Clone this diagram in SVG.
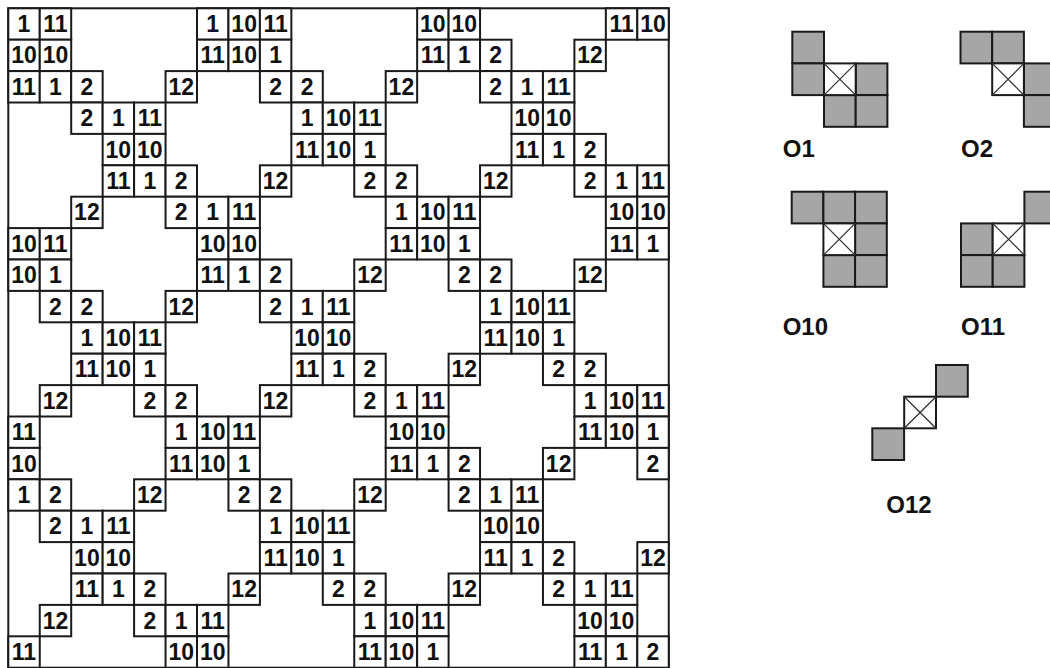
<svg xmlns="http://www.w3.org/2000/svg" width="1050" height="668" viewBox="0 0 1050 668">
<style>
.c rect{fill:#fff;stroke:#1a1a1a;stroke-width:2}
.c text{font-family:"Liberation Sans",Arial,sans-serif;font-weight:bold;font-size:23px;fill:#111;text-anchor:middle}
.g{fill:#a6a6a6;stroke:#1a1a1a;stroke-width:2}
.x{fill:#fff;stroke:#1a1a1a;stroke-width:2}
.xd{stroke:#333;stroke-width:1.3}
.lbl{font-family:"Liberation Sans",Arial,sans-serif;font-weight:bold;font-size:24px;fill:#111}
</style>
<rect x="0" y="0" width="1050" height="668" fill="#fff"/>
<g id="grid">
<rect id="frame" x="8.3" y="8.3" width="660.45" height="659.4" fill="none" stroke="#1a1a1a" stroke-width="2"/>
<g id="r0c0" class="c" transform="translate(8.3,8.3)"><rect width="31.45" height="31.4"/><text x="15.72" y="23.8">1</text></g>
<g id="r0c1" class="c" transform="translate(39.75,8.3)"><rect width="31.45" height="31.4"/><text x="15.72" y="23.8">11</text></g>
<g id="r0c6" class="c" transform="translate(197,8.3)"><rect width="31.45" height="31.4"/><text x="15.72" y="23.8">1</text></g>
<g id="r0c7" class="c" transform="translate(228.45,8.3)"><rect width="31.45" height="31.4"/><text x="15.72" y="23.8">10</text></g>
<g id="r0c8" class="c" transform="translate(259.9,8.3)"><rect width="31.45" height="31.4"/><text x="15.72" y="23.8">11</text></g>
<g id="r0c13" class="c" transform="translate(417.15,8.3)"><rect width="31.45" height="31.4"/><text x="15.72" y="23.8">10</text></g>
<g id="r0c14" class="c" transform="translate(448.6,8.3)"><rect width="31.45" height="31.4"/><text x="15.72" y="23.8">10</text></g>
<g id="r0c19" class="c" transform="translate(605.85,8.3)"><rect width="31.45" height="31.4"/><text x="15.72" y="23.8">11</text></g>
<g id="r0c20" class="c" transform="translate(637.3,8.3)"><rect width="31.45" height="31.4"/><text x="15.72" y="23.8">10</text></g>
<g id="r1c0" class="c" transform="translate(8.3,39.7)"><rect width="31.45" height="31.4"/><text x="15.72" y="23.8">10</text></g>
<g id="r1c1" class="c" transform="translate(39.75,39.7)"><rect width="31.45" height="31.4"/><text x="15.72" y="23.8">10</text></g>
<g id="r1c6" class="c" transform="translate(197,39.7)"><rect width="31.45" height="31.4"/><text x="15.72" y="23.8">11</text></g>
<g id="r1c7" class="c" transform="translate(228.45,39.7)"><rect width="31.45" height="31.4"/><text x="15.72" y="23.8">10</text></g>
<g id="r1c8" class="c" transform="translate(259.9,39.7)"><rect width="31.45" height="31.4"/><text x="15.72" y="23.8">1</text></g>
<g id="r1c13" class="c" transform="translate(417.15,39.7)"><rect width="31.45" height="31.4"/><text x="15.72" y="23.8">11</text></g>
<g id="r1c14" class="c" transform="translate(448.6,39.7)"><rect width="31.45" height="31.4"/><text x="15.72" y="23.8">1</text></g>
<g id="r1c15" class="c" transform="translate(480.05,39.7)"><rect width="31.45" height="31.4"/><text x="15.72" y="23.8">2</text></g>
<g id="r1c18" class="c" transform="translate(574.4,39.7)"><rect width="31.45" height="31.4"/><text x="15.72" y="23.8">12</text></g>
<g id="r2c0" class="c" transform="translate(8.3,71.1)"><rect width="31.45" height="31.4"/><text x="15.72" y="23.8">11</text></g>
<g id="r2c1" class="c" transform="translate(39.75,71.1)"><rect width="31.45" height="31.4"/><text x="15.72" y="23.8">1</text></g>
<g id="r2c2" class="c" transform="translate(71.2,71.1)"><rect width="31.45" height="31.4"/><text x="15.72" y="23.8">2</text></g>
<g id="r2c5" class="c" transform="translate(165.55,71.1)"><rect width="31.45" height="31.4"/><text x="15.72" y="23.8">12</text></g>
<g id="r2c8" class="c" transform="translate(259.9,71.1)"><rect width="31.45" height="31.4"/><text x="15.72" y="23.8">2</text></g>
<g id="r2c9" class="c" transform="translate(291.35,71.1)"><rect width="31.45" height="31.4"/><text x="15.72" y="23.8">2</text></g>
<g id="r2c12" class="c" transform="translate(385.7,71.1)"><rect width="31.45" height="31.4"/><text x="15.72" y="23.8">12</text></g>
<g id="r2c15" class="c" transform="translate(480.05,71.1)"><rect width="31.45" height="31.4"/><text x="15.72" y="23.8">2</text></g>
<g id="r2c16" class="c" transform="translate(511.5,71.1)"><rect width="31.45" height="31.4"/><text x="15.72" y="23.8">1</text></g>
<g id="r2c17" class="c" transform="translate(542.95,71.1)"><rect width="31.45" height="31.4"/><text x="15.72" y="23.8">11</text></g>
<g id="r3c2" class="c" transform="translate(71.2,102.5)"><rect width="31.45" height="31.4"/><text x="15.72" y="23.8">2</text></g>
<g id="r3c3" class="c" transform="translate(102.65,102.5)"><rect width="31.45" height="31.4"/><text x="15.72" y="23.8">1</text></g>
<g id="r3c4" class="c" transform="translate(134.1,102.5)"><rect width="31.45" height="31.4"/><text x="15.72" y="23.8">11</text></g>
<g id="r3c9" class="c" transform="translate(291.35,102.5)"><rect width="31.45" height="31.4"/><text x="15.72" y="23.8">1</text></g>
<g id="r3c10" class="c" transform="translate(322.8,102.5)"><rect width="31.45" height="31.4"/><text x="15.72" y="23.8">10</text></g>
<g id="r3c11" class="c" transform="translate(354.25,102.5)"><rect width="31.45" height="31.4"/><text x="15.72" y="23.8">11</text></g>
<g id="r3c16" class="c" transform="translate(511.5,102.5)"><rect width="31.45" height="31.4"/><text x="15.72" y="23.8">10</text></g>
<g id="r3c17" class="c" transform="translate(542.95,102.5)"><rect width="31.45" height="31.4"/><text x="15.72" y="23.8">10</text></g>
<g id="r4c3" class="c" transform="translate(102.65,133.9)"><rect width="31.45" height="31.4"/><text x="15.72" y="23.8">10</text></g>
<g id="r4c4" class="c" transform="translate(134.1,133.9)"><rect width="31.45" height="31.4"/><text x="15.72" y="23.8">10</text></g>
<g id="r4c9" class="c" transform="translate(291.35,133.9)"><rect width="31.45" height="31.4"/><text x="15.72" y="23.8">11</text></g>
<g id="r4c10" class="c" transform="translate(322.8,133.9)"><rect width="31.45" height="31.4"/><text x="15.72" y="23.8">10</text></g>
<g id="r4c11" class="c" transform="translate(354.25,133.9)"><rect width="31.45" height="31.4"/><text x="15.72" y="23.8">1</text></g>
<g id="r4c16" class="c" transform="translate(511.5,133.9)"><rect width="31.45" height="31.4"/><text x="15.72" y="23.8">11</text></g>
<g id="r4c17" class="c" transform="translate(542.95,133.9)"><rect width="31.45" height="31.4"/><text x="15.72" y="23.8">1</text></g>
<g id="r4c18" class="c" transform="translate(574.4,133.9)"><rect width="31.45" height="31.4"/><text x="15.72" y="23.8">2</text></g>
<g id="r5c3" class="c" transform="translate(102.65,165.3)"><rect width="31.45" height="31.4"/><text x="15.72" y="23.8">11</text></g>
<g id="r5c4" class="c" transform="translate(134.1,165.3)"><rect width="31.45" height="31.4"/><text x="15.72" y="23.8">1</text></g>
<g id="r5c5" class="c" transform="translate(165.55,165.3)"><rect width="31.45" height="31.4"/><text x="15.72" y="23.8">2</text></g>
<g id="r5c8" class="c" transform="translate(259.9,165.3)"><rect width="31.45" height="31.4"/><text x="15.72" y="23.8">12</text></g>
<g id="r5c11" class="c" transform="translate(354.25,165.3)"><rect width="31.45" height="31.4"/><text x="15.72" y="23.8">2</text></g>
<g id="r5c12" class="c" transform="translate(385.7,165.3)"><rect width="31.45" height="31.4"/><text x="15.72" y="23.8">2</text></g>
<g id="r5c15" class="c" transform="translate(480.05,165.3)"><rect width="31.45" height="31.4"/><text x="15.72" y="23.8">12</text></g>
<g id="r5c18" class="c" transform="translate(574.4,165.3)"><rect width="31.45" height="31.4"/><text x="15.72" y="23.8">2</text></g>
<g id="r5c19" class="c" transform="translate(605.85,165.3)"><rect width="31.45" height="31.4"/><text x="15.72" y="23.8">1</text></g>
<g id="r5c20" class="c" transform="translate(637.3,165.3)"><rect width="31.45" height="31.4"/><text x="15.72" y="23.8">11</text></g>
<g id="r6c2" class="c" transform="translate(71.2,196.7)"><rect width="31.45" height="31.4"/><text x="15.72" y="23.8">12</text></g>
<g id="r6c5" class="c" transform="translate(165.55,196.7)"><rect width="31.45" height="31.4"/><text x="15.72" y="23.8">2</text></g>
<g id="r6c6" class="c" transform="translate(197,196.7)"><rect width="31.45" height="31.4"/><text x="15.72" y="23.8">1</text></g>
<g id="r6c7" class="c" transform="translate(228.45,196.7)"><rect width="31.45" height="31.4"/><text x="15.72" y="23.8">11</text></g>
<g id="r6c12" class="c" transform="translate(385.7,196.7)"><rect width="31.45" height="31.4"/><text x="15.72" y="23.8">1</text></g>
<g id="r6c13" class="c" transform="translate(417.15,196.7)"><rect width="31.45" height="31.4"/><text x="15.72" y="23.8">10</text></g>
<g id="r6c14" class="c" transform="translate(448.6,196.7)"><rect width="31.45" height="31.4"/><text x="15.72" y="23.8">11</text></g>
<g id="r6c19" class="c" transform="translate(605.85,196.7)"><rect width="31.45" height="31.4"/><text x="15.72" y="23.8">10</text></g>
<g id="r6c20" class="c" transform="translate(637.3,196.7)"><rect width="31.45" height="31.4"/><text x="15.72" y="23.8">10</text></g>
<g id="r7c0" class="c" transform="translate(8.3,228.1)"><rect width="31.45" height="31.4"/><text x="15.72" y="23.8">10</text></g>
<g id="r7c1" class="c" transform="translate(39.75,228.1)"><rect width="31.45" height="31.4"/><text x="15.72" y="23.8">11</text></g>
<g id="r7c6" class="c" transform="translate(197,228.1)"><rect width="31.45" height="31.4"/><text x="15.72" y="23.8">10</text></g>
<g id="r7c7" class="c" transform="translate(228.45,228.1)"><rect width="31.45" height="31.4"/><text x="15.72" y="23.8">10</text></g>
<g id="r7c12" class="c" transform="translate(385.7,228.1)"><rect width="31.45" height="31.4"/><text x="15.72" y="23.8">11</text></g>
<g id="r7c13" class="c" transform="translate(417.15,228.1)"><rect width="31.45" height="31.4"/><text x="15.72" y="23.8">10</text></g>
<g id="r7c14" class="c" transform="translate(448.6,228.1)"><rect width="31.45" height="31.4"/><text x="15.72" y="23.8">1</text></g>
<g id="r7c19" class="c" transform="translate(605.85,228.1)"><rect width="31.45" height="31.4"/><text x="15.72" y="23.8">11</text></g>
<g id="r7c20" class="c" transform="translate(637.3,228.1)"><rect width="31.45" height="31.4"/><text x="15.72" y="23.8">1</text></g>
<g id="r8c0" class="c" transform="translate(8.3,259.5)"><rect width="31.45" height="31.4"/><text x="15.72" y="23.8">10</text></g>
<g id="r8c1" class="c" transform="translate(39.75,259.5)"><rect width="31.45" height="31.4"/><text x="15.72" y="23.8">1</text></g>
<g id="r8c6" class="c" transform="translate(197,259.5)"><rect width="31.45" height="31.4"/><text x="15.72" y="23.8">11</text></g>
<g id="r8c7" class="c" transform="translate(228.45,259.5)"><rect width="31.45" height="31.4"/><text x="15.72" y="23.8">1</text></g>
<g id="r8c8" class="c" transform="translate(259.9,259.5)"><rect width="31.45" height="31.4"/><text x="15.72" y="23.8">2</text></g>
<g id="r8c11" class="c" transform="translate(354.25,259.5)"><rect width="31.45" height="31.4"/><text x="15.72" y="23.8">12</text></g>
<g id="r8c14" class="c" transform="translate(448.6,259.5)"><rect width="31.45" height="31.4"/><text x="15.72" y="23.8">2</text></g>
<g id="r8c15" class="c" transform="translate(480.05,259.5)"><rect width="31.45" height="31.4"/><text x="15.72" y="23.8">2</text></g>
<g id="r8c18" class="c" transform="translate(574.4,259.5)"><rect width="31.45" height="31.4"/><text x="15.72" y="23.8">12</text></g>
<g id="r9c1" class="c" transform="translate(39.75,290.9)"><rect width="31.45" height="31.4"/><text x="15.72" y="23.8">2</text></g>
<g id="r9c2" class="c" transform="translate(71.2,290.9)"><rect width="31.45" height="31.4"/><text x="15.72" y="23.8">2</text></g>
<g id="r9c5" class="c" transform="translate(165.55,290.9)"><rect width="31.45" height="31.4"/><text x="15.72" y="23.8">12</text></g>
<g id="r9c8" class="c" transform="translate(259.9,290.9)"><rect width="31.45" height="31.4"/><text x="15.72" y="23.8">2</text></g>
<g id="r9c9" class="c" transform="translate(291.35,290.9)"><rect width="31.45" height="31.4"/><text x="15.72" y="23.8">1</text></g>
<g id="r9c10" class="c" transform="translate(322.8,290.9)"><rect width="31.45" height="31.4"/><text x="15.72" y="23.8">11</text></g>
<g id="r9c15" class="c" transform="translate(480.05,290.9)"><rect width="31.45" height="31.4"/><text x="15.72" y="23.8">1</text></g>
<g id="r9c16" class="c" transform="translate(511.5,290.9)"><rect width="31.45" height="31.4"/><text x="15.72" y="23.8">10</text></g>
<g id="r9c17" class="c" transform="translate(542.95,290.9)"><rect width="31.45" height="31.4"/><text x="15.72" y="23.8">11</text></g>
<g id="r10c2" class="c" transform="translate(71.2,322.3)"><rect width="31.45" height="31.4"/><text x="15.72" y="23.8">1</text></g>
<g id="r10c3" class="c" transform="translate(102.65,322.3)"><rect width="31.45" height="31.4"/><text x="15.72" y="23.8">10</text></g>
<g id="r10c4" class="c" transform="translate(134.1,322.3)"><rect width="31.45" height="31.4"/><text x="15.72" y="23.8">11</text></g>
<g id="r10c9" class="c" transform="translate(291.35,322.3)"><rect width="31.45" height="31.4"/><text x="15.72" y="23.8">10</text></g>
<g id="r10c10" class="c" transform="translate(322.8,322.3)"><rect width="31.45" height="31.4"/><text x="15.72" y="23.8">10</text></g>
<g id="r10c15" class="c" transform="translate(480.05,322.3)"><rect width="31.45" height="31.4"/><text x="15.72" y="23.8">11</text></g>
<g id="r10c16" class="c" transform="translate(511.5,322.3)"><rect width="31.45" height="31.4"/><text x="15.72" y="23.8">10</text></g>
<g id="r10c17" class="c" transform="translate(542.95,322.3)"><rect width="31.45" height="31.4"/><text x="15.72" y="23.8">1</text></g>
<g id="r11c2" class="c" transform="translate(71.2,353.7)"><rect width="31.45" height="31.4"/><text x="15.72" y="23.8">11</text></g>
<g id="r11c3" class="c" transform="translate(102.65,353.7)"><rect width="31.45" height="31.4"/><text x="15.72" y="23.8">10</text></g>
<g id="r11c4" class="c" transform="translate(134.1,353.7)"><rect width="31.45" height="31.4"/><text x="15.72" y="23.8">1</text></g>
<g id="r11c9" class="c" transform="translate(291.35,353.7)"><rect width="31.45" height="31.4"/><text x="15.72" y="23.8">11</text></g>
<g id="r11c10" class="c" transform="translate(322.8,353.7)"><rect width="31.45" height="31.4"/><text x="15.72" y="23.8">1</text></g>
<g id="r11c11" class="c" transform="translate(354.25,353.7)"><rect width="31.45" height="31.4"/><text x="15.72" y="23.8">2</text></g>
<g id="r11c14" class="c" transform="translate(448.6,353.7)"><rect width="31.45" height="31.4"/><text x="15.72" y="23.8">12</text></g>
<g id="r11c17" class="c" transform="translate(542.95,353.7)"><rect width="31.45" height="31.4"/><text x="15.72" y="23.8">2</text></g>
<g id="r11c18" class="c" transform="translate(574.4,353.7)"><rect width="31.45" height="31.4"/><text x="15.72" y="23.8">2</text></g>
<g id="r12c1" class="c" transform="translate(39.75,385.1)"><rect width="31.45" height="31.4"/><text x="15.72" y="23.8">12</text></g>
<g id="r12c4" class="c" transform="translate(134.1,385.1)"><rect width="31.45" height="31.4"/><text x="15.72" y="23.8">2</text></g>
<g id="r12c5" class="c" transform="translate(165.55,385.1)"><rect width="31.45" height="31.4"/><text x="15.72" y="23.8">2</text></g>
<g id="r12c8" class="c" transform="translate(259.9,385.1)"><rect width="31.45" height="31.4"/><text x="15.72" y="23.8">12</text></g>
<g id="r12c11" class="c" transform="translate(354.25,385.1)"><rect width="31.45" height="31.4"/><text x="15.72" y="23.8">2</text></g>
<g id="r12c12" class="c" transform="translate(385.7,385.1)"><rect width="31.45" height="31.4"/><text x="15.72" y="23.8">1</text></g>
<g id="r12c13" class="c" transform="translate(417.15,385.1)"><rect width="31.45" height="31.4"/><text x="15.72" y="23.8">11</text></g>
<g id="r12c18" class="c" transform="translate(574.4,385.1)"><rect width="31.45" height="31.4"/><text x="15.72" y="23.8">1</text></g>
<g id="r12c19" class="c" transform="translate(605.85,385.1)"><rect width="31.45" height="31.4"/><text x="15.72" y="23.8">10</text></g>
<g id="r12c20" class="c" transform="translate(637.3,385.1)"><rect width="31.45" height="31.4"/><text x="15.72" y="23.8">11</text></g>
<g id="r13c0" class="c" transform="translate(8.3,416.5)"><rect width="31.45" height="31.4"/><text x="15.72" y="23.8">11</text></g>
<g id="r13c5" class="c" transform="translate(165.55,416.5)"><rect width="31.45" height="31.4"/><text x="15.72" y="23.8">1</text></g>
<g id="r13c6" class="c" transform="translate(197,416.5)"><rect width="31.45" height="31.4"/><text x="15.72" y="23.8">10</text></g>
<g id="r13c7" class="c" transform="translate(228.45,416.5)"><rect width="31.45" height="31.4"/><text x="15.72" y="23.8">11</text></g>
<g id="r13c12" class="c" transform="translate(385.7,416.5)"><rect width="31.45" height="31.4"/><text x="15.72" y="23.8">10</text></g>
<g id="r13c13" class="c" transform="translate(417.15,416.5)"><rect width="31.45" height="31.4"/><text x="15.72" y="23.8">10</text></g>
<g id="r13c18" class="c" transform="translate(574.4,416.5)"><rect width="31.45" height="31.4"/><text x="15.72" y="23.8">11</text></g>
<g id="r13c19" class="c" transform="translate(605.85,416.5)"><rect width="31.45" height="31.4"/><text x="15.72" y="23.8">10</text></g>
<g id="r13c20" class="c" transform="translate(637.3,416.5)"><rect width="31.45" height="31.4"/><text x="15.72" y="23.8">1</text></g>
<g id="r14c0" class="c" transform="translate(8.3,447.9)"><rect width="31.45" height="31.4"/><text x="15.72" y="23.8">10</text></g>
<g id="r14c5" class="c" transform="translate(165.55,447.9)"><rect width="31.45" height="31.4"/><text x="15.72" y="23.8">11</text></g>
<g id="r14c6" class="c" transform="translate(197,447.9)"><rect width="31.45" height="31.4"/><text x="15.72" y="23.8">10</text></g>
<g id="r14c7" class="c" transform="translate(228.45,447.9)"><rect width="31.45" height="31.4"/><text x="15.72" y="23.8">1</text></g>
<g id="r14c12" class="c" transform="translate(385.7,447.9)"><rect width="31.45" height="31.4"/><text x="15.72" y="23.8">11</text></g>
<g id="r14c13" class="c" transform="translate(417.15,447.9)"><rect width="31.45" height="31.4"/><text x="15.72" y="23.8">1</text></g>
<g id="r14c14" class="c" transform="translate(448.6,447.9)"><rect width="31.45" height="31.4"/><text x="15.72" y="23.8">2</text></g>
<g id="r14c17" class="c" transform="translate(542.95,447.9)"><rect width="31.45" height="31.4"/><text x="15.72" y="23.8">12</text></g>
<g id="r14c20" class="c" transform="translate(637.3,447.9)"><rect width="31.45" height="31.4"/><text x="15.72" y="23.8">2</text></g>
<g id="r15c0" class="c" transform="translate(8.3,479.3)"><rect width="31.45" height="31.4"/><text x="15.72" y="23.8">1</text></g>
<g id="r15c1" class="c" transform="translate(39.75,479.3)"><rect width="31.45" height="31.4"/><text x="15.72" y="23.8">2</text></g>
<g id="r15c4" class="c" transform="translate(134.1,479.3)"><rect width="31.45" height="31.4"/><text x="15.72" y="23.8">12</text></g>
<g id="r15c7" class="c" transform="translate(228.45,479.3)"><rect width="31.45" height="31.4"/><text x="15.72" y="23.8">2</text></g>
<g id="r15c8" class="c" transform="translate(259.9,479.3)"><rect width="31.45" height="31.4"/><text x="15.72" y="23.8">2</text></g>
<g id="r15c11" class="c" transform="translate(354.25,479.3)"><rect width="31.45" height="31.4"/><text x="15.72" y="23.8">12</text></g>
<g id="r15c14" class="c" transform="translate(448.6,479.3)"><rect width="31.45" height="31.4"/><text x="15.72" y="23.8">2</text></g>
<g id="r15c15" class="c" transform="translate(480.05,479.3)"><rect width="31.45" height="31.4"/><text x="15.72" y="23.8">1</text></g>
<g id="r15c16" class="c" transform="translate(511.5,479.3)"><rect width="31.45" height="31.4"/><text x="15.72" y="23.8">11</text></g>
<g id="r16c1" class="c" transform="translate(39.75,510.7)"><rect width="31.45" height="31.4"/><text x="15.72" y="23.8">2</text></g>
<g id="r16c2" class="c" transform="translate(71.2,510.7)"><rect width="31.45" height="31.4"/><text x="15.72" y="23.8">1</text></g>
<g id="r16c3" class="c" transform="translate(102.65,510.7)"><rect width="31.45" height="31.4"/><text x="15.72" y="23.8">11</text></g>
<g id="r16c8" class="c" transform="translate(259.9,510.7)"><rect width="31.45" height="31.4"/><text x="15.72" y="23.8">1</text></g>
<g id="r16c9" class="c" transform="translate(291.35,510.7)"><rect width="31.45" height="31.4"/><text x="15.72" y="23.8">10</text></g>
<g id="r16c10" class="c" transform="translate(322.8,510.7)"><rect width="31.45" height="31.4"/><text x="15.72" y="23.8">11</text></g>
<g id="r16c15" class="c" transform="translate(480.05,510.7)"><rect width="31.45" height="31.4"/><text x="15.72" y="23.8">10</text></g>
<g id="r16c16" class="c" transform="translate(511.5,510.7)"><rect width="31.45" height="31.4"/><text x="15.72" y="23.8">10</text></g>
<g id="r17c2" class="c" transform="translate(71.2,542.1)"><rect width="31.45" height="31.4"/><text x="15.72" y="23.8">10</text></g>
<g id="r17c3" class="c" transform="translate(102.65,542.1)"><rect width="31.45" height="31.4"/><text x="15.72" y="23.8">10</text></g>
<g id="r17c8" class="c" transform="translate(259.9,542.1)"><rect width="31.45" height="31.4"/><text x="15.72" y="23.8">11</text></g>
<g id="r17c9" class="c" transform="translate(291.35,542.1)"><rect width="31.45" height="31.4"/><text x="15.72" y="23.8">10</text></g>
<g id="r17c10" class="c" transform="translate(322.8,542.1)"><rect width="31.45" height="31.4"/><text x="15.72" y="23.8">1</text></g>
<g id="r17c15" class="c" transform="translate(480.05,542.1)"><rect width="31.45" height="31.4"/><text x="15.72" y="23.8">11</text></g>
<g id="r17c16" class="c" transform="translate(511.5,542.1)"><rect width="31.45" height="31.4"/><text x="15.72" y="23.8">1</text></g>
<g id="r17c17" class="c" transform="translate(542.95,542.1)"><rect width="31.45" height="31.4"/><text x="15.72" y="23.8">2</text></g>
<g id="r17c20" class="c" transform="translate(637.3,542.1)"><rect width="31.45" height="31.4"/><text x="15.72" y="23.8">12</text></g>
<g id="r18c2" class="c" transform="translate(71.2,573.5)"><rect width="31.45" height="31.4"/><text x="15.72" y="23.8">11</text></g>
<g id="r18c3" class="c" transform="translate(102.65,573.5)"><rect width="31.45" height="31.4"/><text x="15.72" y="23.8">1</text></g>
<g id="r18c4" class="c" transform="translate(134.1,573.5)"><rect width="31.45" height="31.4"/><text x="15.72" y="23.8">2</text></g>
<g id="r18c7" class="c" transform="translate(228.45,573.5)"><rect width="31.45" height="31.4"/><text x="15.72" y="23.8">12</text></g>
<g id="r18c10" class="c" transform="translate(322.8,573.5)"><rect width="31.45" height="31.4"/><text x="15.72" y="23.8">2</text></g>
<g id="r18c11" class="c" transform="translate(354.25,573.5)"><rect width="31.45" height="31.4"/><text x="15.72" y="23.8">2</text></g>
<g id="r18c14" class="c" transform="translate(448.6,573.5)"><rect width="31.45" height="31.4"/><text x="15.72" y="23.8">12</text></g>
<g id="r18c17" class="c" transform="translate(542.95,573.5)"><rect width="31.45" height="31.4"/><text x="15.72" y="23.8">2</text></g>
<g id="r18c18" class="c" transform="translate(574.4,573.5)"><rect width="31.45" height="31.4"/><text x="15.72" y="23.8">1</text></g>
<g id="r18c19" class="c" transform="translate(605.85,573.5)"><rect width="31.45" height="31.4"/><text x="15.72" y="23.8">11</text></g>
<g id="r19c1" class="c" transform="translate(39.75,604.9)"><rect width="31.45" height="31.4"/><text x="15.72" y="23.8">12</text></g>
<g id="r19c4" class="c" transform="translate(134.1,604.9)"><rect width="31.45" height="31.4"/><text x="15.72" y="23.8">2</text></g>
<g id="r19c5" class="c" transform="translate(165.55,604.9)"><rect width="31.45" height="31.4"/><text x="15.72" y="23.8">1</text></g>
<g id="r19c6" class="c" transform="translate(197,604.9)"><rect width="31.45" height="31.4"/><text x="15.72" y="23.8">11</text></g>
<g id="r19c11" class="c" transform="translate(354.25,604.9)"><rect width="31.45" height="31.4"/><text x="15.72" y="23.8">1</text></g>
<g id="r19c12" class="c" transform="translate(385.7,604.9)"><rect width="31.45" height="31.4"/><text x="15.72" y="23.8">10</text></g>
<g id="r19c13" class="c" transform="translate(417.15,604.9)"><rect width="31.45" height="31.4"/><text x="15.72" y="23.8">11</text></g>
<g id="r19c18" class="c" transform="translate(574.4,604.9)"><rect width="31.45" height="31.4"/><text x="15.72" y="23.8">10</text></g>
<g id="r19c19" class="c" transform="translate(605.85,604.9)"><rect width="31.45" height="31.4"/><text x="15.72" y="23.8">10</text></g>
<g id="r20c0" class="c" transform="translate(8.3,636.3)"><rect width="31.45" height="31.4"/><text x="15.72" y="23.8">11</text></g>
<g id="r20c5" class="c" transform="translate(165.55,636.3)"><rect width="31.45" height="31.4"/><text x="15.72" y="23.8">10</text></g>
<g id="r20c6" class="c" transform="translate(197,636.3)"><rect width="31.45" height="31.4"/><text x="15.72" y="23.8">10</text></g>
<g id="r20c11" class="c" transform="translate(354.25,636.3)"><rect width="31.45" height="31.4"/><text x="15.72" y="23.8">11</text></g>
<g id="r20c12" class="c" transform="translate(385.7,636.3)"><rect width="31.45" height="31.4"/><text x="15.72" y="23.8">10</text></g>
<g id="r20c13" class="c" transform="translate(417.15,636.3)"><rect width="31.45" height="31.4"/><text x="15.72" y="23.8">1</text></g>
<g id="r20c18" class="c" transform="translate(574.4,636.3)"><rect width="31.45" height="31.4"/><text x="15.72" y="23.8">11</text></g>
<g id="r20c19" class="c" transform="translate(605.85,636.3)"><rect width="31.45" height="31.4"/><text x="15.72" y="23.8">1</text></g>
<g id="r20c20" class="c" transform="translate(637.3,636.3)"><rect width="31.45" height="31.4"/><text x="15.72" y="23.8">2</text></g>
</g>
<g id="connectors"></g>
<g id="O1" transform="translate(792.3,31.7)">
<rect class="g" x="0" y="0" width="31.7" height="31.7"/>
<rect class="g" x="0" y="31.7" width="31.7" height="31.7"/>
<rect class="g" x="63.4" y="31.7" width="31.7" height="31.7"/>
<rect class="g" x="31.7" y="63.4" width="31.7" height="31.7"/>
<rect class="g" x="63.4" y="63.4" width="31.7" height="31.7"/>
<rect class="x" x="31.7" y="31.7" width="31.7" height="31.7"/>
<path class="xd" d="M31.7,31.7 L63.4,63.4 M63.4,31.7 L31.7,63.4"/>
<text class="lbl" x="-9.5" y="125">O1</text>
</g>
<g id="O2" transform="translate(960.5,31.7)">
<rect class="g" x="0" y="0" width="31.7" height="31.7"/>
<rect class="g" x="31.7" y="0" width="31.7" height="31.7"/>
<rect class="g" x="63.4" y="31.7" width="31.7" height="31.7"/>
<rect class="g" x="63.4" y="63.4" width="31.7" height="31.7"/>
<rect class="x" x="31.7" y="31.7" width="31.7" height="31.7"/>
<path class="xd" d="M31.7,31.7 L63.4,63.4 M63.4,31.7 L31.7,63.4"/>
<text class="lbl" x="0.5" y="125">O2</text>
</g>
<g id="O10" transform="translate(791.7,191.7)">
<rect class="g" x="0" y="0" width="31.7" height="31.7"/>
<rect class="g" x="31.7" y="0" width="31.7" height="31.7"/>
<rect class="g" x="63.4" y="0" width="31.7" height="31.7"/>
<rect class="g" x="63.4" y="31.7" width="31.7" height="31.7"/>
<rect class="g" x="31.7" y="63.4" width="31.7" height="31.7"/>
<rect class="g" x="63.4" y="63.4" width="31.7" height="31.7"/>
<rect class="x" x="31.7" y="31.7" width="31.7" height="31.7"/>
<path class="xd" d="M31.7,31.7 L63.4,63.4 M63.4,31.7 L31.7,63.4"/>
<text class="lbl" x="-9" y="143.3">O10</text>
</g>
<g id="O11" transform="translate(961,191.7)">
<rect class="g" x="63.4" y="0" width="31.7" height="31.7"/>
<rect class="g" x="0" y="31.7" width="31.7" height="31.7"/>
<rect class="g" x="0" y="63.4" width="31.7" height="31.7"/>
<rect class="g" x="31.7" y="63.4" width="31.7" height="31.7"/>
<rect class="x" x="31.7" y="31.7" width="31.7" height="31.7"/>
<path class="xd" d="M31.7,31.7 L63.4,63.4 M63.4,31.7 L31.7,63.4"/>
<text class="lbl" x="0" y="143.3">O11</text>
</g>
<g id="O12" transform="translate(872.3,365)">
<rect class="g" x="63.7" y="0" width="31.8" height="31.7"/>
<rect class="g" x="0" y="63.3" width="31.8" height="31.7"/>
<rect class="x" x="31.9" y="31.7" width="31.8" height="31.6"/>
<path class="xd" d="M31.9,31.7 L63.7,63.3 M63.7,31.7 L31.9,63.3"/>
<text class="lbl" x="14" y="148.3">O12</text>
</g>
</svg>
